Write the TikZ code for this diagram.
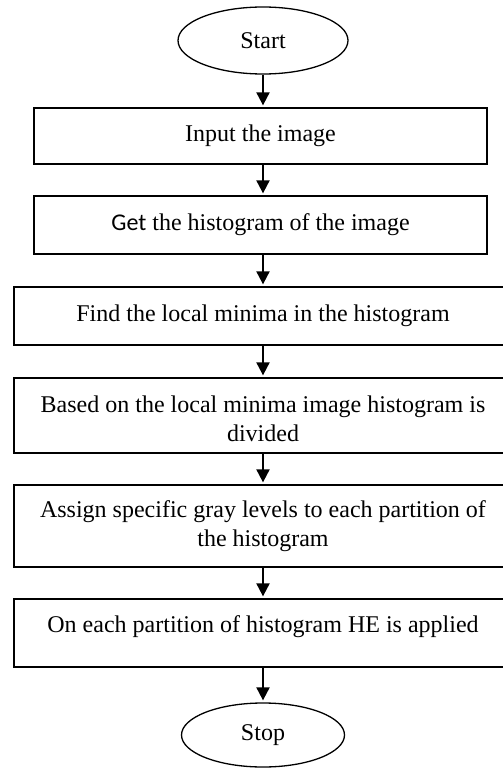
\documentclass[tikz,border=0pt]{standalone}
\usepackage{fontspec}
\setmainfont{Liberation Serif}
\newfontfamily\getfont{Carlito}
\usepackage{tikz}
\usetikzlibrary{shapes.geometric,arrows.meta}

\tikzset{
    stepbox/.style={draw, line width=1.3pt, rectangle, align=center, inner sep=3pt},
    term/.style={draw, line width=1.3pt, ellipse, inner sep=0pt},
    flow/.style={line width=2pt, -{Triangle[width=13pt,length=13pt]}, shorten >=2pt}
}

\begin{document}
\begin{tikzpicture}[x=1pt, y=-1pt, font=\fontsize{24}{29}\selectfont]
    \useasboundingbox (0,0) rectangle (503,768);
    \node[term, minimum width=170pt, minimum height=67pt] (start) at (263,40.5) {Start};
    \node[stepbox, minimum width=453pt, minimum height=56pt] (input) at (260.5,136) {Input the image};
    \node[stepbox, minimum width=453pt, minimum height=58pt] (hist) at (260.5,225) {{\getfont Get} the histogram of the image};
    \node[stepbox, minimum width=498pt, minimum height=58pt] (minima) at (263,316) {Find the local minima in the histogram};
    \node[stepbox, minimum width=498pt, minimum height=75pt, text height=53pt] (divide) at (263,415.5) {Based on the local minima image histogram is\\divided};
    \node[stepbox, minimum width=498pt, minimum height=82pt] (assign) at (263,526) {Assign specific gray levels to each partition of\\the histogram};
    \node[stepbox, minimum width=498pt, text height=30pt, text depth=32pt] (apply) at (263,633) {On each partition of histogram HE is applied};
    \node[term, minimum width=163pt, minimum height=64pt] (stop) at (263,735) {Stop};
    \foreach \a/\b in {start/input, input/hist, hist/minima, minima/divide, divide/assign, assign/apply, apply/stop}
        \draw[flow] (\a.south -| start) -- (\b.north -| start);
\end{tikzpicture}
\end{document}
